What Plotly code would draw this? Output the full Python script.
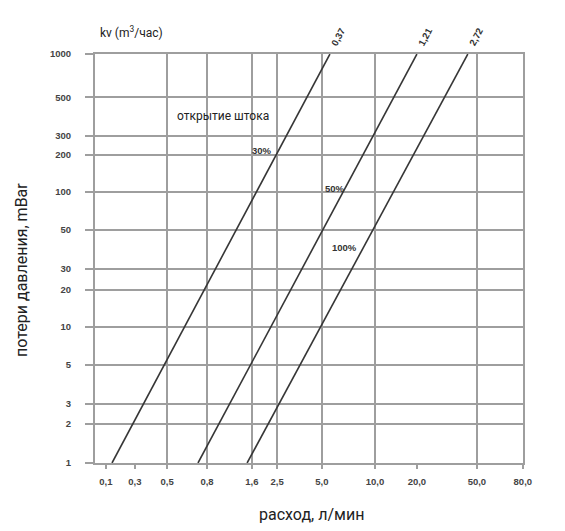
import math
import plotly.graph_objects as go

# ---- data ----
pressure_mbar = [1, 1000]
flow_kv037 = [0.195, 6.17]
flow_kv121 = [0.762, 24.5]
flow_kv272 = [1.66, 54.9]
kv_labels = ["0,37", "1,21", "2,72"]
opening_labels = ["30%", "50%", "100%"]

x_tick_labels = ["0,1", "0,3", "0,5", "0,8", "1,6", "2,5", "5,0", "10,0", "20,0", "50,0", "80,0"]
y_tick_labels = ["1", "2", "3", "5", "10", "20", "30", "50", "100", "200", "300", "500", "1000"]

# ---- layout constants (positions on the axes) ----
X_TICK_POS = [0.177, 0.280, 0.467, 0.879, 1.79, 2.67, 5.43, 12.6, 24.5, 63.4, 131.3]
X_GRID_POS = [0.467, 0.879, 1.79, 2.67, 5.43, 12.6, 63.4]
Y_TICK_POS = [1, 1.93, 2.71, 5.24, 10, 18.6, 26.5, 51.2, 97.3, 182, 252, 482, 1000]
X_RANGE = [-0.827, 2.1195]
Y_RANGE = [0, 3.0005]

GRID = "#9e9e9e"
CURVE = "#363636"
FONT = "Roboto"

fig = go.Figure()
series = [flow_kv037, flow_kv121, flow_kv272]
for flows, lab in zip(series, kv_labels):
    fig.add_trace(go.Scatter(x=flows, y=pressure_mbar, mode="lines",
                             line=dict(color=CURVE, width=1.6),
                             name=lab, showlegend=False, hoverinfo="skip"))
fig.add_trace(go.Scatter(x=[], y=[], xaxis="x2", showlegend=False, hoverinfo="skip"))

# kv labels at the top end of each line (log axes -> annotation coords in log10)
for flows, lab in zip(series, kv_labels):
    fig.add_annotation(x=math.log10(flows[1]), y=math.log10(pressure_mbar[1]),
                       xref="x", yref="y",
                       text=lab, showarrow=False, textangle=-62,
                       xshift=8, yshift=18,
                       font=dict(family="Liberation Sans", size=9.5, color="#333", weight="bold"))

pct_pos = [(0.390, 0.765), (0.561, 0.672), (0.584, 0.526)]
for (px, py), lab in zip(pct_pos, opening_labels):
    fig.add_annotation(x=px, y=py, xref="paper", yref="paper", text=lab,
                       showarrow=False, xanchor="center", yanchor="middle",
                       font=dict(family="Liberation Sans", size=9.5, color="#333", weight="bold"))

fig.add_annotation(x=0.187, y=0.848, xref="paper", yref="paper", text="открытие штока",
                   showarrow=False, xanchor="left", yanchor="middle",
                   font=dict(family=FONT, size=12, color="#222"))
fig.add_annotation(x=0.007, y=1.054, xref="paper", yref="paper", text="kv (m<sup>3</sup>/час)",
                   showarrow=False, xanchor="left", yanchor="middle",
                   font=dict(family=FONT, size=12, color="#222"))
fig.add_annotation(x=0.507, y=-0.127, xref="paper", yref="paper", text="расход, л/мин",
                   showarrow=False, xanchor="center", yanchor="middle",
                   font=dict(family=FONT, size=16, color="#222"))
fig.add_annotation(x=-0.1706, y=0.472, xref="paper", yref="paper", text="потери давления, mBar",
                   showarrow=False, textangle=-90, xanchor="center", yanchor="middle",
                   font=dict(family=FONT, size=16, color="#222"))

tickfont = dict(family="Liberation Sans", size=9.5, color="#444", weight="bold")

# the page body has an 8px margin, so the figure is offset by 8px
fig.update_layout(
    width=557, height=523,
    margin=dict(l=87, r=42, t=46, b=68),
    paper_bgcolor="white", plot_bgcolor="white",
    xaxis=dict(type="log", range=X_RANGE, tickmode="array",
               tickvals=X_TICK_POS, ticktext=x_tick_labels,
               showgrid=False, zeroline=False,
               showline=True, linecolor=GRID, linewidth=2, mirror=True,
               ticks="outside", ticklen=4, tickwidth=1.5, tickcolor=GRID,
               ticklabelstandoff=5, tickfont=tickfont),
    xaxis2=dict(type="log", range=X_RANGE, overlaying="x", anchor="y",
                tickmode="array", tickvals=X_GRID_POS, showticklabels=False,
                showgrid=True, gridcolor=GRID, gridwidth=2, ticks="",
                zeroline=False, showline=False),
    yaxis=dict(type="log", range=Y_RANGE, tickmode="array",
               tickvals=Y_TICK_POS, ticktext=y_tick_labels,
               showgrid=True, gridcolor=GRID, gridwidth=2, zeroline=False,
               showline=True, linecolor=GRID, linewidth=2, mirror=True,
               ticks="outside", ticklen=8, tickwidth=2, tickcolor=GRID,
               ticklabelstandoff=12, tickfont=tickfont),
)

fig.write_html("out.html")
